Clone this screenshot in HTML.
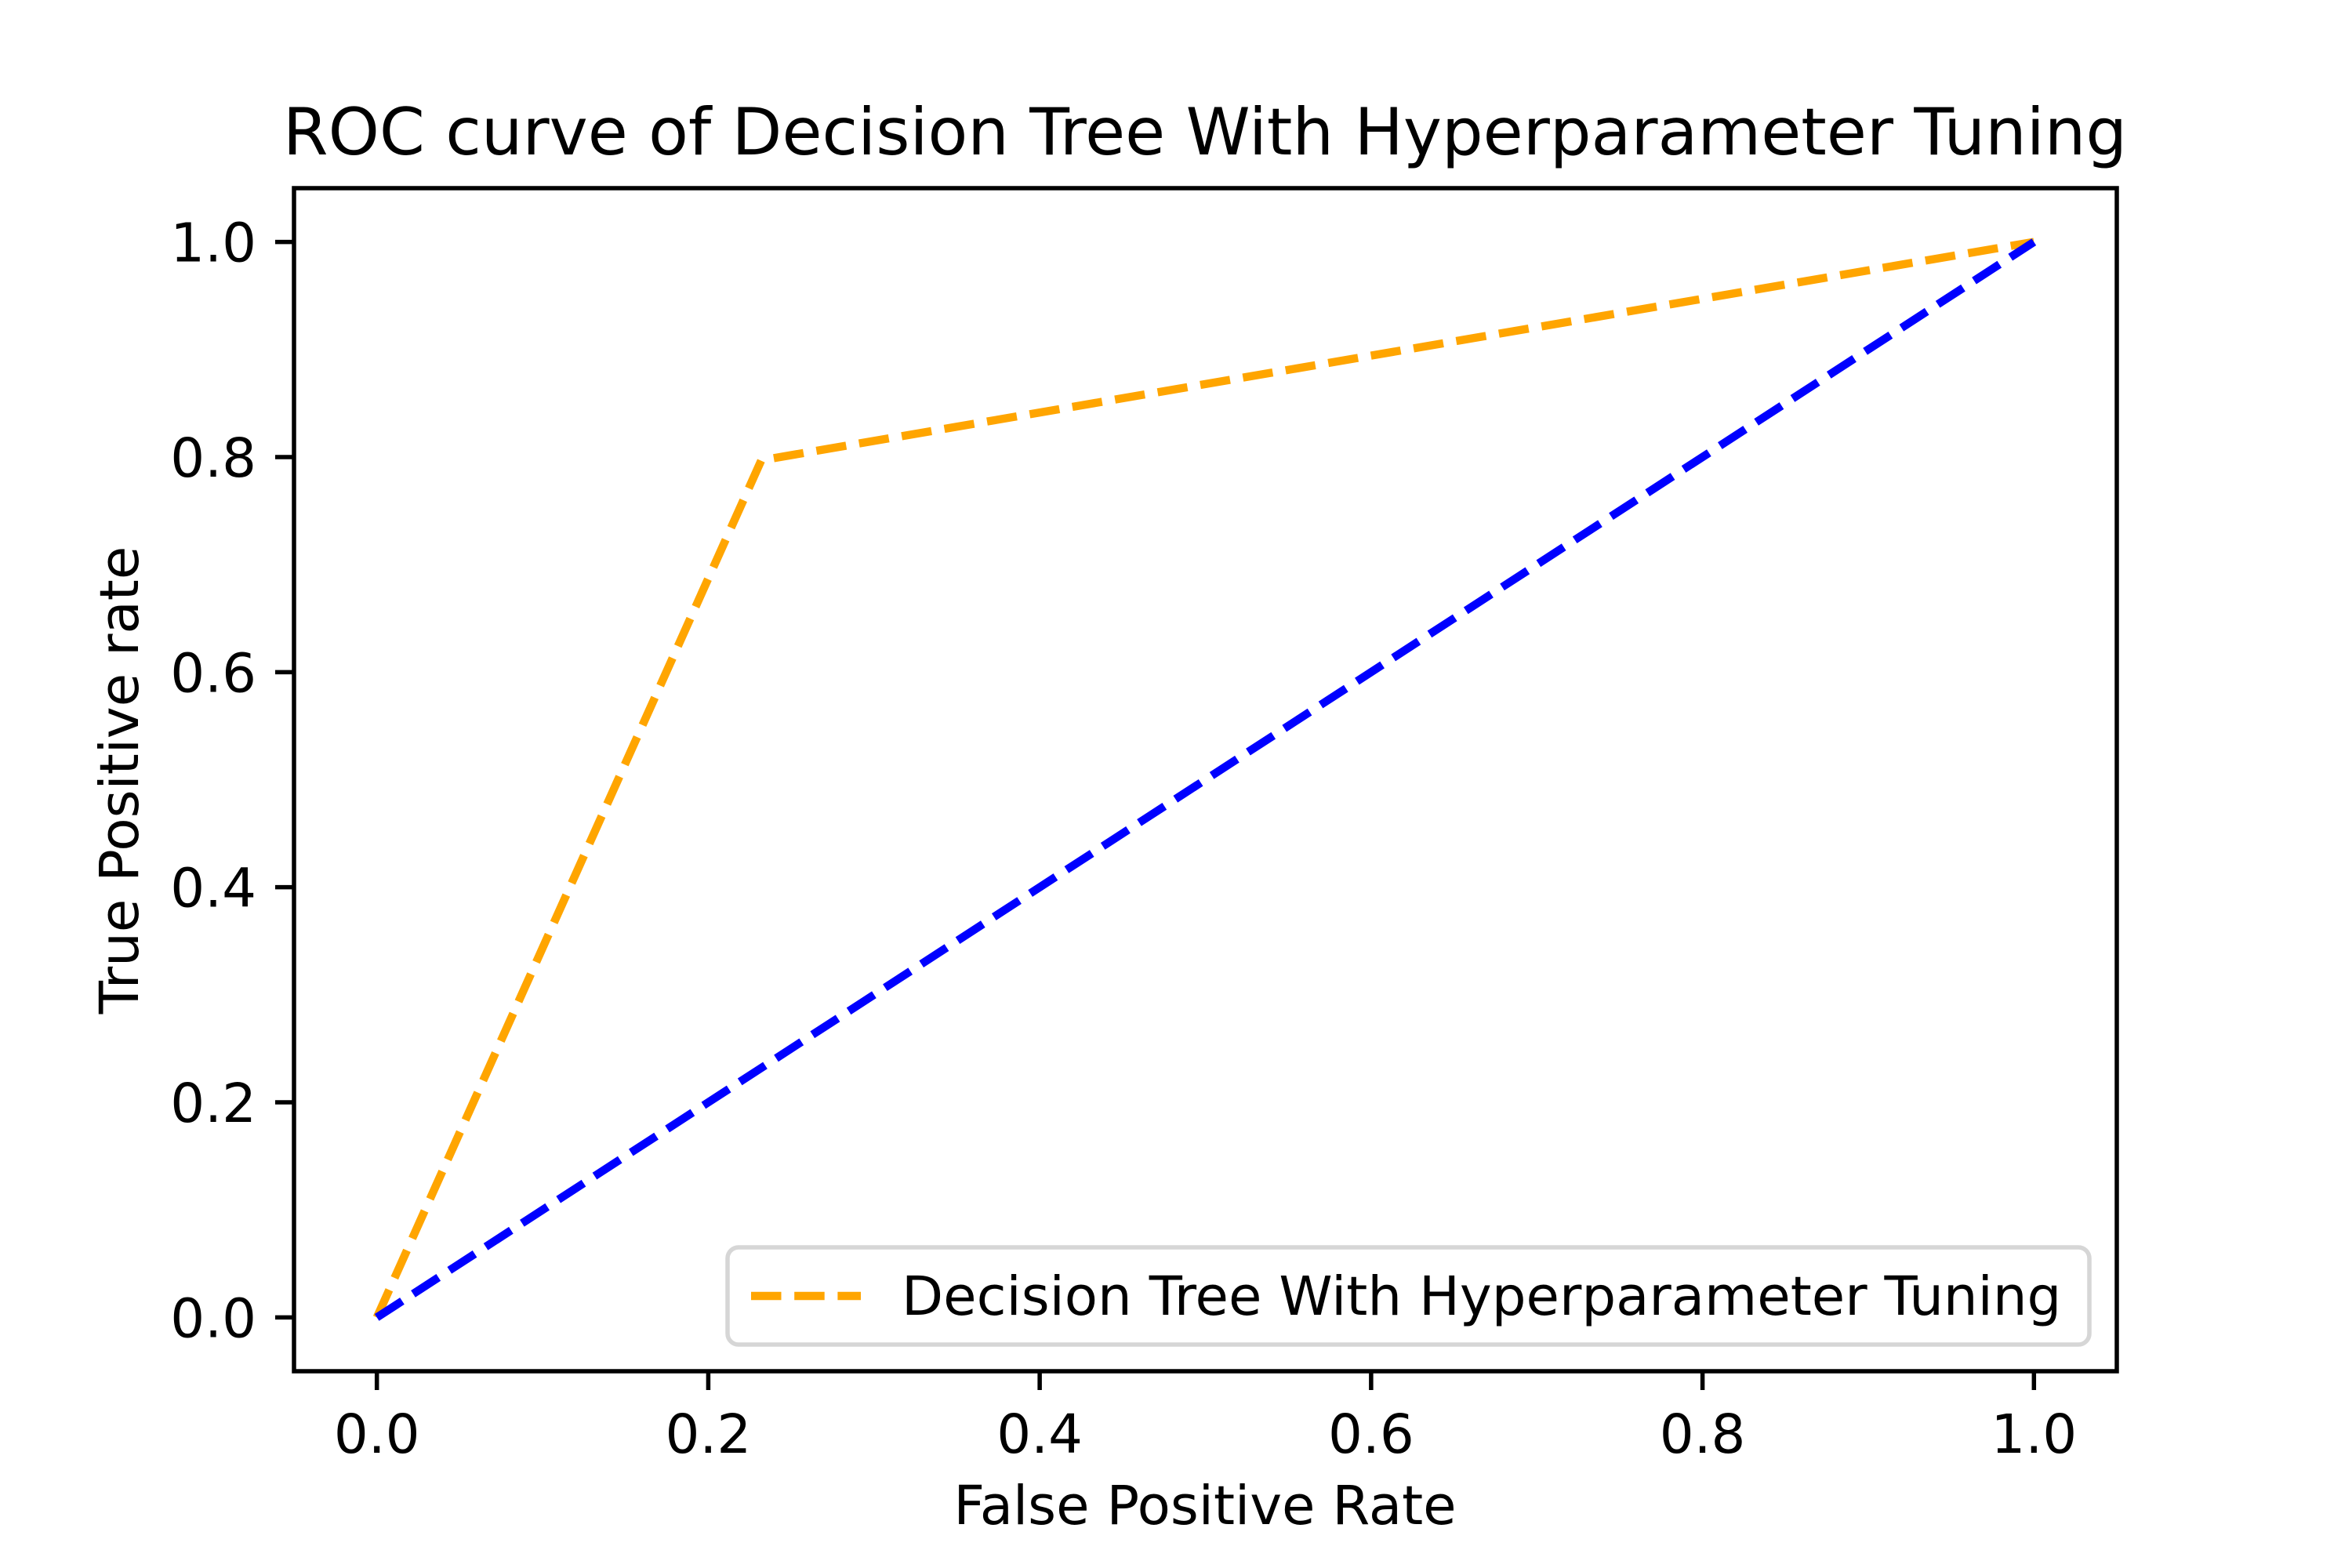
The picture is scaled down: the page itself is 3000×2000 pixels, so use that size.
<!DOCTYPE html>
<html><head><meta charset="utf-8"><style>
html,body{margin:0;padding:0;background:#fff}
svg{display:block;font-family:"DejaVu Sans","Liberation Sans",sans-serif}
</style></head><body>
<svg id="chart" width="3000" height="2000" viewBox="0 0 3000 2000" xmlns="http://www.w3.org/2000/svg">
<rect width="3000" height="2000" fill="#fff"/>
<text x="1537" y="197" font-size="83" text-anchor="middle">ROC curve of Decision Tree With Hyperparameter Tuning</text>
<g id="ticks"></g>
<g id="lines"></g>
<rect x="375" y="240" width="2325" height="1509" fill="none" stroke="#000" stroke-width="5.5"/>
<text x="1537" y="1944" font-size="69" text-anchor="middle">False Positive Rate</text>
<text transform="translate(176,995) rotate(-90)" font-size="69" text-anchor="middle">True Positive rate</text>
<g>
<rect x="928" y="1591" width="1737" height="124" rx="14" fill="#fff" fill-opacity="0.8" stroke="#d6d6d6" stroke-width="5.5"/>
<line x1="958" y1="1653" x2="1098" y2="1653" stroke="orange" stroke-width="10.4" stroke-dasharray="38.5,16.7"/>
<text x="1150" y="1677" font-size="69">Decision Tree With Hyperparameter Tuning</text>
</g>
</svg>
<script>
const fpr = [0, 0.232, 1];
const tpr = [0, 0.797, 1];
const diagX = [0, 1];
const diagY = [0, 1];
const xTicks = [0, 0.2, 0.4, 0.6, 0.8, 1.0];
const yTicks = [0, 0.2, 0.4, 0.6, 0.8, 1.0];
const NS='http://www.w3.org/2000/svg';
const BOTTOM=1749, H=1509;
function sx(v){return 375 + (v+0.05)/1.1*2325;}
function sy(v){return BOTTOM - (v+0.05)/1.1*H;}
const tg=document.getElementById('ticks'), lg=document.getElementById('lines');
function mk(tag,attrs,parent){const e=document.createElementNS(NS,tag);for(const k in attrs)e.setAttribute(k,attrs[k]);parent.appendChild(e);return e;}
xTicks.forEach(t=>{
  const l=mk('line',{x1:sx(t),x2:sx(t),y1:BOTTOM,y2:BOTTOM+24,stroke:'#000','stroke-width':5.5},tg);
  
  
  const tx=mk('text',{x:sx(t),y:1853,'font-size':69,'text-anchor':'middle'},tg);
  tx.textContent=t.toFixed(1);
  
  
});
yTicks.forEach(t=>{
  const l=mk('line',{x1:351,x2:375,y1:sy(t),y2:sy(t),stroke:'#000','stroke-width':5.5},tg);
  
  
  const tx=mk('text',{x:327,y:sy(t)+25,'font-size':69,'text-anchor':'end'},tg);
  tx.textContent=t.toFixed(1);
  
  
});
function pts(xs,ys){return xs.map((x,i)=>sx(x)+','+sy(ys[i])).join(' ');}
const o=mk('polyline',{points:pts(fpr,tpr),fill:'none',stroke:'orange','stroke-width':10.4,'stroke-dasharray':'38.5,16.7'},lg);


const b=mk('polyline',{points:pts(diagX,diagY),fill:'none',stroke:'blue','stroke-width':10.4,'stroke-dasharray':'38.5,16.7'},lg);


</script>
</body></html>
